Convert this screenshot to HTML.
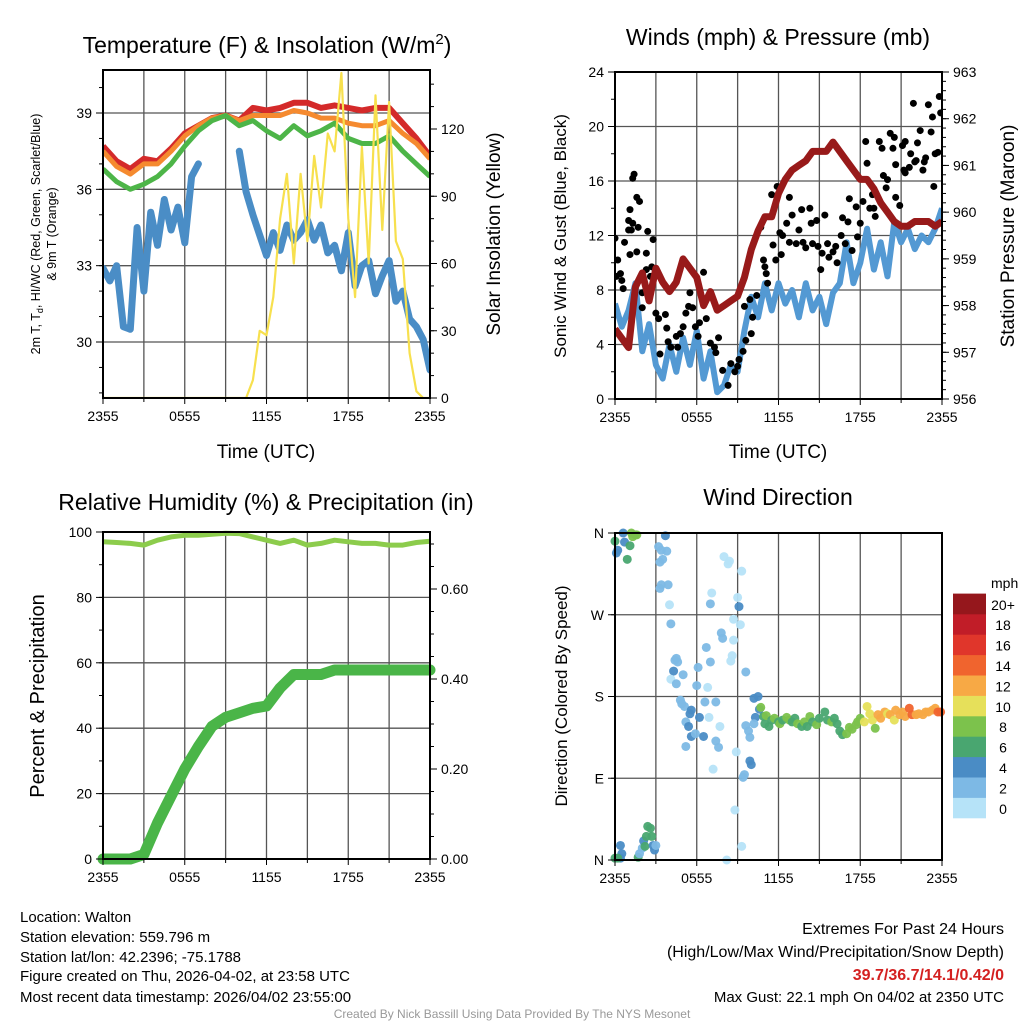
<!DOCTYPE html>
<html><head><meta charset="utf-8">
<style>
html,body{margin:0;padding:0;background:#fff;}
svg{display:block;font-family:"Liberation Sans",Arial,sans-serif;}
</style></head>
<body>
<svg id="fig" width="1024" height="1024" viewBox="0 0 1024 1024" xmlns="http://www.w3.org/2000/svg">
<rect width="1024" height="1024" fill="#fff"/>
<g id="layer"></g>
<text x="267" y="53" font-size="23" text-anchor="middle">Temperature (F) &amp; Insolation (W/m<tspan dy="-9" font-size="15">2</tspan><tspan dy="9">)</tspan></text>
<text x="778" y="45" font-size="23" text-anchor="middle">Winds (mph) &amp; Pressure (mb)</text>
<text x="266" y="510" font-size="23" text-anchor="middle">Relative Humidity (%) &amp; Precipitation (in)</text>
<text x="778" y="505" font-size="23" text-anchor="middle">Wind Direction</text>
<text x="266" y="458" font-size="19" text-anchor="middle">Time (UTC)</text>
<text x="778" y="458" font-size="19" text-anchor="middle">Time (UTC)</text>
<g transform="translate(40,234) rotate(-90)">
<text x="0" y="0" font-size="12.5" text-anchor="middle">2m T, T<tspan dy="3" font-size="9">d</tspan><tspan dy="-3">, HI/WC (Red, Green, Scarlet/Blue)</tspan></text>
<text x="0" y="16" font-size="12.5" text-anchor="middle">&amp; 9m T (Orange)</text>
</g>
<text transform="translate(500,234) rotate(-90)" font-size="19" text-anchor="middle">Solar Insolation (Yellow)</text>
<text transform="translate(566,236) rotate(-90)" font-size="17" text-anchor="middle">Sonic Wind &amp; Gust (Blue, Black)</text>
<text transform="translate(1014,236) rotate(-90)" font-size="19" text-anchor="middle">Station Pressure (Maroon)</text>
<text transform="translate(44,696) rotate(-90)" font-size="20" text-anchor="middle">Percent &amp; Precipitation</text>
<text transform="translate(567,696) rotate(-90)" font-size="17" text-anchor="middle">Direction (Colored By Speed)</text>
<g font-size="15">
<text x="20" y="922">Location: Walton</text>
<text x="20" y="942">Station elevation: 559.796 m</text>
<text x="20" y="962">Station lat/lon: 42.2396; -75.1788</text>
<text x="20" y="981">Figure created on Thu, 2026-04-02, at 23:58 UTC</text>
<text x="20" y="1002">Most recent data timestamp: 2026/04/02 23:55:00</text>
</g>
<g font-size="16" text-anchor="end">
<text x="1004" y="934">Extremes For Past 24 Hours</text>
<text x="1004" y="957">(High/Low/Max Wind/Precipitation/Snow Depth)</text>
<text x="1004" y="980" fill="#d42020" font-weight="bold">39.7/36.7/14.1/0.42/0</text>
<text x="1004" y="1002" font-size="15">Max Gust: 22.1 mph On 04/02 at 2350 UTC</text>
</g>
<text x="512" y="1018" font-size="12" fill="#999" text-anchor="middle">Created By Nick Bassill Using Data Provided By The NYS Mesonet</text>
</svg>
<script>
const hours = [0,1,2,3,4,5,6,7,8,9,10,11,12,13,14,15,16,17,18,19,20,21,22,23,24];
const halfHours = [0,0.5,1,1.5,2,2.5,3,3.5,4,4.5,5,5.5,6,6.5,7,7.5,8,8.5,9,9.5,10,10.5,11,11.5,12,12.5,13,13.5,14,14.5,15,15.5,16,16.5,17,17.5,18,18.5,19,19.5,20,20.5,21,21.5,22,22.5,23,23.5,24];
const xTickLabels = ["2355","0555","1155","1755","2355"];
const temp2m = [37.7,37.1,36.8,37.2,37.1,37.6,38.2,38.5,38.8,38.9,38.7,39.2,39.1,39.2,39.4,39.4,39.2,39.3,39.2,39.1,39.2,39.2,38.6,38.0,37.3];
const temp9m = [37.5,36.9,36.6,37.0,37.0,37.5,38.1,38.5,38.8,38.9,38.7,38.9,38.9,38.9,39.1,39.0,38.8,38.8,38.6,38.5,38.5,38.7,38.2,37.8,37.2];
const heatWindChill = [36.8,36.3,36.0,36.2,36.5,37.0,37.7,38.3,38.7,38.9,38.5,38.7,38.3,38.0,38.5,38.1,38.3,38.6,38.0,37.8,37.8,38.1,37.5,37.0,36.5];
const dewpoint = [32.9,32.4,33.0,30.6,30.5,34.5,32.0,35.1,33.8,35.6,34.4,35.3,33.9,36.5,37.0,null,null,null,null,null,37.5,35.9,35.0,34.2,33.4,34.3,33.6,34.6,34.0,34.3,34.8,34.0,34.6,33.5,33.8,32.8,34.3,32.2,33.0,33.2,31.9,32.6,33.2,31.6,32.0,30.9,30.6,30.1,28.9];
const solar = [0,0,0,0,0,0,0,0,0,0,0,0,0,0,0,0,0,0,0,0,0,0,8,30,28,45,80,100,60,100,70,108,85,118,110,145,80,45,112,60,135,75,132,70,62,20,3,0,0];
const tempTicks = [30,33,36,39];
const solarTicks = [0,30,60,90,120];
const windSpeed = [7.0,5.3,6.5,8.5,3.5,5.5,2.5,1.5,4.0,2.0,4.5,2.5,5.0,1.5,3.5,0.5,1.0,2.5,2.0,5.0,7.5,6.0,8.5,6.5,8.5,7.0,8.0,6.0,8.5,6.5,7.5,5.5,7.8,8.5,11.5,8.5,10.0,12.5,9.5,11.5,9.0,13.0,11.5,12.5,11.0,12.0,11.5,12.5,14.0];
const pressure = [957.5,957.3,957.1,958.4,958.7,958.1,958.8,958.5,958.3,958.5,959.0,958.8,958.6,958.0,958.3,957.9,958.0,958.1,958.2,958.6,959.2,959.6,959.9,959.9,960.4,960.7,960.9,961.0,961.1,961.3,961.3,961.3,961.5,961.3,961.1,960.9,960.7,960.7,960.5,960.2,960.0,959.8,959.7,959.7,959.8,959.8,959.8,959.7,959.8];
const gustTimes = [0,0.2,0.1,0.5,0.4,0.6,0.7,1,1,1.1,1.2,1.3,1.3,1.4,1.6,1.8,1.6,1.1,1.7,2.3,2.4,2.8,2.7,2.6,2.3,2,2,3,3.2,3.7,3.8,3.3,4.1,3.9,4.5,4.8,4.6,5,5.2,5.5,5.4,5.7,5.9,6.1,6.2,6.5,6.7,7,7.3,7.6,7.4,7.9,8.3,8.5,8.8,9,9.1,9.4,9.6,10,9.5,9.9,10.1,10.4,10.7,10.9,11.1,11.2,11,11.5,11.6,11.8,11.9,12.1,12.2,12.3,12.6,12.8,12.8,13,13.3,13.5,13.7,13.8,14,14.3,14.4,14.5,14.8,14.9,15.1,15.2,15.4,15.6,15.7,16,16.2,16.3,16.6,16.7,16.9,17.1,17.2,17.4,17.7,17.8,18,18.2,18.4,18.5,18.7,18.9,19,19.1,19.4,19.6,19.7,19.9,20,20.2,20.4,20.5,20.6,20.6,20.9,21.1,21.2,21.3,21.3,21.6,21.7,21.9,22,22.1,22.2,22.4,22.6,22.7,22.8,23,23.2,23.3,23.4,23.5,23.7,23.8,23.9];
const gustValues = [11.8,10.2,9,8.7,9.2,8.1,11.5,13.1,12.4,13.9,12.4,12.9,16.2,16.5,14.8,14.5,10.8,10.6,12.6,10.7,12.3,11.7,9.7,9,9.5,7.8,6.7,6.3,5.9,6.2,5.2,3.3,3.8,4.2,4.6,4.8,3.8,5.3,6.3,7.8,6.8,6.7,5.3,4.6,5.6,9.3,5.9,4.1,3.8,4.5,3.4,2.1,1,2.6,2,2.4,2.9,3.5,4.3,4.8,6.8,7.3,6,7.6,12.6,10.2,9.2,8.5,9.7,15,11.3,10.2,15.6,12.2,10.6,12,12.9,14.8,11.5,13.5,11.4,12.4,13.9,11.5,11.1,14,12.9,11.4,13.1,11.2,9.5,10.7,13.5,11.4,10.4,10.8,11.2,10,12,13.3,11.4,13,14.7,10.9,14.1,11.9,12.9,14.5,18.9,17.3,14,15,14,13.4,18.9,18.4,16.4,15.5,16.1,19.5,18.4,19.2,14.8,17.2,14.2,18.6,16.8,18.9,16.6,17,18,21.7,17.4,17.5,18.8,19.7,16.8,17.4,17.7,21.6,19.6,20.7,15.6,18,18.1,22.2,21];
const windTicks = [0,4,8,12,16,20,24];
const pressureTicks = [956,957,958,959,960,961,962,963];
const rhHourly = [97,96.8,96.5,96,97.5,98.5,99,99,99.3,99.6,99.5,98.5,97.5,96.5,97.5,96,96.5,97.5,97,96.5,96.5,96,96,96.8,97.2];
const precip = [0,0,0,0.01,0.08,0.14,0.2,0.25,0.295,0.315,0.325,0.335,0.34,0.38,0.41,0.41,0.41,0.42,0.42,0.42,0.42,0.42,0.42,0.42,0.42];
const rhTicks = [0,20,40,60,80,100];
const precipTicks = [0,0.2,0.4,0.6];
const precipTickLabels = ["0.00","0.20","0.40","0.60"];
const dirTimes = [0.6,1.2,1.5,1.6,1.3,0,0.7,1.1,0.1,0.9,0.2,3.7,3.2,3.4,3.8,3.3,3.5,3.4,3.3,3.9,4.0,4.1,4.4,4.5,4.6,4.3,5.0,4.1,4.5,4.8,4.9,5.1,5.6,5.5,5.2,5.4,5.6,5.9,6.5,5.2,6.2,6.1,6.0,6.7,7.0,7.1,7.0,6.8,6.9,6.6,7.4,7.7,7.4,7.6,7.8,7.9,8.0,8.4,8.3,8.7,8.6,8.5,8.7,9.0,9.1,9.2,9.3,8.9,7.2,8.8,9.3,8.2,9.6,9.6,9.8,9.9,9.9,10.0,9.5,9.4,10.2,10.5,10.3,10.6,10.2,0,0.4,0.5,0.4,0.2,1.7,1.8,2.0,2.1,2.2,2.3,2.4,2.6,2.7,2.8,2.9,3.0,10.7,10.9,11.0,11.1,11.3,11.5,11.7,12.0,12.1,12.3,12.6,12.8,13.0,13.2,13.4,13.7,13.9,14.1,14.3,14.5,14.8,15.0,15.4,15.6,15.9,16.1,16.3,16.5,16.7,17.0,17.2,17.4,17.7,17.8,18.0,18.3,18.5,18.7,18.9,19.1,19.3,19.5,19.8,20.0,20.2,20.5,20.6,20.9,21.1,21.3,21.6,21.8,22.1,22.3,22.6,22.8,23.0,23.3,23.5,23.7,23.9];
const dirValues = [360,360,358,358,356,351,350,346,338,331,341,357,345,341,340,328,331,303,299,303,281,260,220,222,218,208,204,199,194,176,172,169,165,161,152,147,136,139,136,125,157,212,192,234,218,294,282,190,157,174,174,147,131,124,250,244,334,329,326,242,225,219,265,289,279,259,318,119,100,55,15,0,207,148,142,135,109,105,94,91,178,180,157,166,150,2,2,7,16,2,3,7,13,21,15,26,37,35,26,16,11,16,168,158,150,159,147,154,156,152,150,154,157,154,152,156,150,147,152,147,158,152,149,156,163,154,152,156,150,142,138,139,146,144,149,152,156,152,169,161,154,145,160,156,163,161,160,154,165,160,163,158,167,160,160,161,160,163,163,165,167,163,163];
const dirSpeeds = [4,8,8,8,8,6,4,6,4,6,4,4,2,2,2,2,2,2,2,2,1,2,2,2,2,4,2,1,2,2,2,2,4,4,2,4,4,2,4,2,4,2,2,2,2,1,2,1,1,2,2,1,2,2,2,2,1,1,1,1,1,1,1,1,4,1,1,1,1,1,1,1,2,2,2,2,4,4,2,2,4,4,4,4,2,6,4,4,4,6,6,2,2,4,6,6,6,6,6,4,4,2,8,6,6,8,6,6,8,6,8,6,8,8,6,6,8,6,8,6,8,6,8,6,6,6,8,6,6,6,6,8,8,8,8,8,8,10,10,10,10,8,12,12,12,10,12,10,12,12,12,12,14,14,12,12,12,12,12,12,12,14,14];
const dirTicks = [0,90,180,270,360];
const dirTickLabels = ["N","E","S","W","N"];
const speedBinLabels = ["0","2","4","6","8","10","12","14","16","18","20+"];
const speedColors = ["#b6e3f8","#7db9e5","#4a8cc5","#49a670","#7cc24c","#e6e05a","#f7a945","#f0642e","#e0362b","#c11d28","#95171c"];

const NS = "http://www.w3.org/2000/svg";
const layer = document.getElementById("layer");
function mk(tag, attrs, parent, name, inter) {
  const e = document.createElementNS(NS, tag);
  for (const k in attrs) e.setAttribute(k, attrs[k]);
  
  
  (parent || layer).appendChild(e);
  return e;
}
function lin(d0, d1, r0, r1) { return v => r0 + (v - d0) / (d1 - d0) * (r1 - r0); }
function pathD(xs, ys, X, Y) {
  let d = "", pen = false;
  for (let i = 0; i < xs.length; i++) {
    if (ys[i] === null) { pen = false; continue; }
    d += (pen ? "L" : "M") + X(xs[i]).toFixed(1) + "," + Y(ys[i]).toFixed(1);
    pen = true;
  }
  return d;
}
function panel(p) {
  const g = mk("g", {}, layer, p.name, false);
  for (let t = 3; t < 24; t += 3) {
    mk("line", {x1: p.X(t), x2: p.X(t), y1: p.y0, y2: p.y1, stroke: "#555", "stroke-width": 1.3}, g, "vertical-grid-line", false);
  }
  p.hgrid.forEach(v => {
    mk("line", {x1: p.x0, x2: p.x1, y1: p.YL(v), y2: p.YL(v), stroke: "#555", "stroke-width": 1.3}, g, "horizontal-grid-line", false);
  });
  return g;
}
function frame(p, g) {
  mk("rect", {x: p.x0, y: p.y0, width: p.x1 - p.x0, height: p.y1 - p.y0, fill: "none", stroke: "#000", "stroke-width": 2}, g, "plot-frame", false);
  for (let t = 0; t <= 24; t += 3) {
    mk("line", {x1: p.X(t), x2: p.X(t), y1: p.y1, y2: p.y1 + (t % 6 === 0 ? 6 : 4), stroke: "#000", "stroke-width": 1}, g, "x-tick", false);
  }
  xTickLabels.forEach((lab, i) => {
    const tx = mk("text", {x: p.X(i * 6), y: p.y1 + 23, "font-size": 14, "text-anchor": "middle"}, g, "x-tick-label", false);
    tx.textContent = lab;
  });
}
function yAxis(g, x, y0, y1, Y, lo, hi, minorStep, majors, labels, side, name) {
  const dir = side === "left" ? -1 : 1;
  mk("line", {x1: x, x2: x, y1: y0, y2: y1, stroke: "#000", "stroke-width": 2}, g, name + "-line", false);
  for (let v = lo; v <= hi + 1e-9; v += minorStep) {
    mk("line", {x1: x, x2: x + dir * 4, y1: Y(v), y2: Y(v), stroke: "#000", "stroke-width": 1}, g, name + "-minor-tick", false);
  }
  majors.forEach((v, i) => {
    mk("line", {x1: x, x2: x + dir * 7, y1: Y(v), y2: Y(v), stroke: "#000", "stroke-width": 1}, g, name + "-major-tick", false);
    const tx = mk("text", {x: x + dir * 11, y: Y(v) + 5, "font-size": 14, "text-anchor": side === "left" ? "end" : "start"}, g, name + "-tick-label", false);
    tx.textContent = labels[i];
  });
}

(function () {
  const p = {name: "temperature-panel", x0: 103, x1: 430, y0: 70, y1: 398};
  p.X = lin(0, 24, p.x0, p.x1);
  p.YL = lin(30, 39, 342, 113);
  const YR = lin(0, 120, 398, 129);
  p.hgrid = tempTicks;
  const g = panel(p);
  const clip = mk("clipPath", {id: "c1"}, g, "temperature-clip", false);
  mk("rect", {x: p.x0, y: p.y0, width: p.x1 - p.x0, height: p.y1 - p.y0}, clip, "clip-rect", false);
  const s = mk("g", {"clip-path": "url(#c1)"}, g, "temperature-series", false);
  mk("path", {d: pathD(halfHours, dewpoint, p.X, p.YL), fill: "none", stroke: "#4a8dc6", "stroke-width": 7, "stroke-linejoin": "round", "stroke-linecap": "round"}, s, "dewpoint-line", false);
  mk("path", {d: pathD(hours, temp2m, p.X, p.YL), fill: "none", stroke: "#d42a2a", "stroke-width": 6, "stroke-linejoin": "round"}, s, "temp-2m-line", false);
  mk("path", {d: pathD(hours, temp9m, p.X, p.YL), fill: "none", stroke: "#f58a2f", "stroke-width": 5, "stroke-linejoin": "round"}, s, "temp-9m-line", false);
  mk("path", {d: pathD(hours, heatWindChill, p.X, p.YL), fill: "none", stroke: "#4db548", "stroke-width": 5, "stroke-linejoin": "round"}, s, "heat-index-windchill-line", false);
  mk("path", {d: pathD(halfHours, solar, p.X, YR), fill: "none", stroke: "#f7e04e", "stroke-width": 2.2, "stroke-linejoin": "round"}, s, "solar-insolation-line", false);
  frame(p, g);
  yAxis(g, p.x0, p.y0, p.y1, p.YL, 28, 40, 1, tempTicks, tempTicks.map(String), "left", "temperature-y-axis");
  yAxis(g, p.x1, p.y0, p.y1, YR, 0, 140, 10, solarTicks, solarTicks.map(String), "right", "solar-y-axis");
})();

(function () {
  const p = {name: "winds-panel", x0: 615, x1: 942, y0: 72, y1: 399};
  p.X = lin(0, 24, p.x0, p.x1);
  p.YL = lin(0, 24, 399, 72);
  const YR = lin(956, 963, 399, 72);
  p.hgrid = windTicks.slice(1, 6);
  const g = panel(p);
  const clip = mk("clipPath", {id: "c2"}, g, "winds-clip", false);
  mk("rect", {x: p.x0, y: p.y0, width: p.x1 - p.x0, height: p.y1 - p.y0}, clip, "clip-rect", false);
  const s = mk("g", {"clip-path": "url(#c2)"}, g, "winds-series", false);
  mk("path", {d: pathD(halfHours, windSpeed, p.X, p.YL), fill: "none", stroke: "#5399d3", "stroke-width": 6, "stroke-linejoin": "round"}, s, "sonic-wind-line", false);
  gustTimes.forEach((t, i) => {
    mk("circle", {cx: p.X(t), cy: p.YL(gustValues[i]), r: 3.5, fill: "#000"}, s, "gust-point", false);
  });
  mk("path", {d: pathD(halfHours, pressure, p.X, YR), fill: "none", stroke: "#981a1a", "stroke-width": 7, "stroke-linejoin": "round"}, s, "pressure-line", false);
  frame(p, g);
  yAxis(g, p.x0, p.y0, p.y1, p.YL, 0, 24, 2, windTicks, windTicks.map(String), "left", "wind-y-axis");
  yAxis(g, p.x1, p.y0, p.y1, YR, 956, 963, 0.2, pressureTicks, pressureTicks.map(String), "right", "pressure-y-axis");
})();

(function () {
  const p = {name: "humidity-panel", x0: 103, x1: 430, y0: 532, y1: 859};
  p.X = lin(0, 24, p.x0, p.x1);
  p.YL = lin(0, 100, 859, 532);
  const YR = lin(0, 0.6, 859, 589);
  p.hgrid = rhTicks.slice(1, 5);
  const g = panel(p);
  const s = mk("g", {}, g, "humidity-series", false);
  mk("path", {d: pathD(hours, rhHourly, p.X, p.YL), fill: "none", stroke: "#8ccc4c", "stroke-width": 5, "stroke-linejoin": "round"}, s, "relative-humidity-line", false);
  mk("path", {d: pathD(hours, precip, p.X, YR), fill: "none", stroke: "#4ab548", "stroke-width": 11, "stroke-linejoin": "round", "stroke-linecap": "round"}, s, "precipitation-line", false);
  frame(p, g);
  yAxis(g, p.x0, p.y0, p.y1, p.YL, 0, 100, 10, rhTicks, rhTicks.map(String), "left", "percent-y-axis");
  yAxis(g, p.x1, p.y0, p.y1, YR, 0, 0.7, 0.05, precipTicks, precipTickLabels, "right", "precip-y-axis");
})();

(function () {
  const p = {name: "wind-direction-panel", x0: 615, x1: 942, y0: 533, y1: 860};
  p.X = lin(0, 24, p.x0, p.x1);
  p.YL = lin(0, 360, 860, 533);
  p.hgrid = dirTicks.slice(1, 4);
  const g = panel(p);
  const s = mk("g", {}, g, "direction-series", false);
  dirTimes.forEach((t, i) => {
    const bin = Math.min(10, Math.floor(dirSpeeds[i] / 2));
    mk("circle", {cx: p.X(t), cy: p.YL(dirValues[i]), r: 4.5, fill: speedColors[bin], "fill-opacity": 0.95}, s, "direction-point", false);
  });
  frame(p, g);
  yAxis(g, p.x0, p.y0, p.y1, p.YL, 0, 360, 90, dirTicks, dirTickLabels, "left", "direction-y-axis");
  const cb = mk("g", {}, g, "speed-colorbar", false);
  const t0 = mk("text", {x: 991, y: 588, "font-size": 14}, cb, "colorbar-title", false);
  t0.textContent = "mph";
  const bh = 20.4;
  speedColors.forEach((c, i) => {
    const y = 818 - (i + 1) * bh;
    mk("rect", {x: 953, y: y, width: 33, height: bh + 0.3, fill: c}, cb, "colorbar-swatch", false);
    const tl = mk("text", {x: 1003, y: y + bh / 2 + 6, "font-size": 14, "text-anchor": "middle"}, cb, "colorbar-label", false);
    tl.textContent = speedBinLabels[i];
  });
})();
</script>
</body></html>
